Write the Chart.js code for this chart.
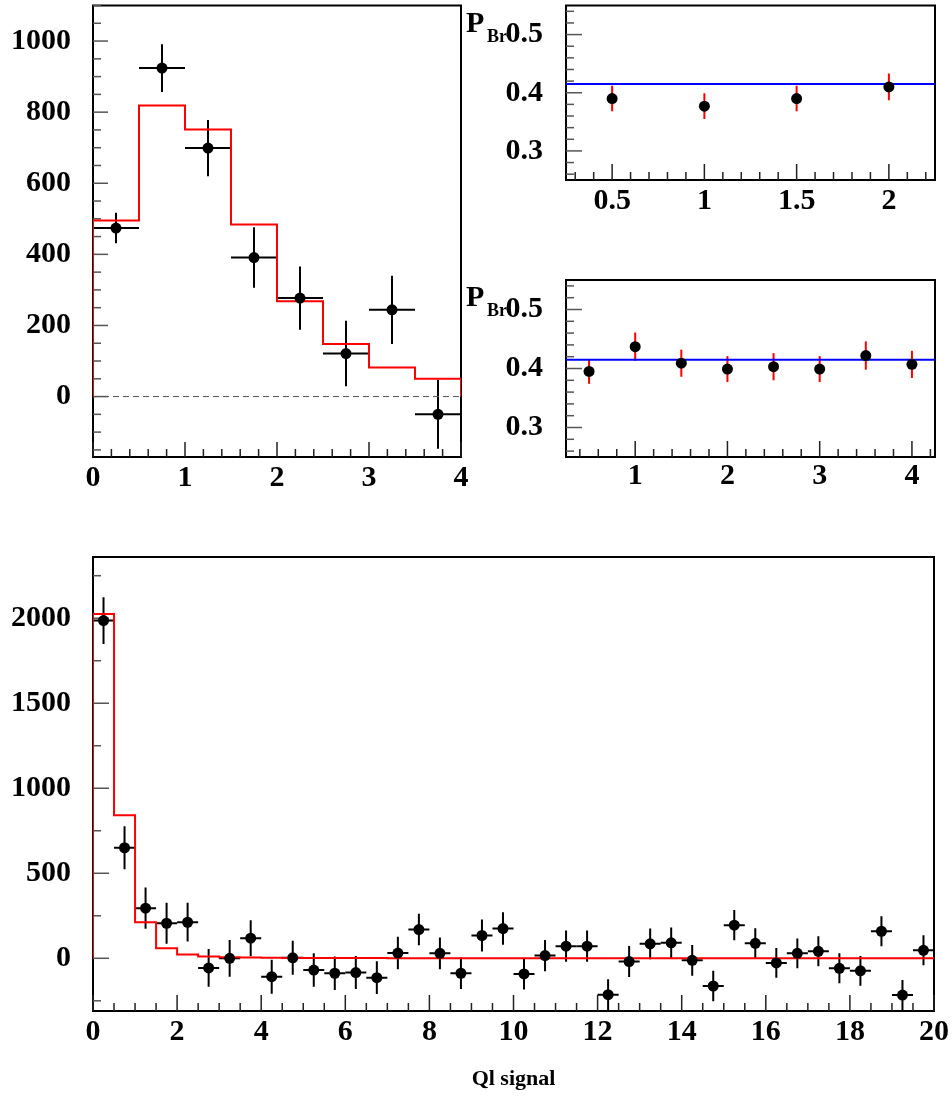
<!DOCTYPE html>
<html>
<head>
<meta charset="utf-8">
<script src="https://cdn.jsdelivr.net/npm/chart.js@4.4.0/dist/chart.umd.min.js"></script>
<style>
  body { margin: 0; background: #fff; width: 952px; height: 1097px; position: relative; overflow: hidden; }
  canvas { position: absolute; }
</style>
</head>
<body>
<canvas id="topHist" width="470" height="500" style="left:0;top:0"></canvas>
<canvas id="pbFirst" width="492" height="230" style="left:460px;top:0"></canvas>
<canvas id="pbSecond" width="492" height="230" style="left:460px;top:270px"></canvas>
<canvas id="fullHist" width="952" height="557" style="left:0;top:540px"></canvas>
<script>
// top-left: counts per 0.5 bin with fit histogram
const topBinEdges = [0, 0.5, 1, 1.5, 2, 2.5, 3, 3.5, 4];
const topCounts = [474, 924, 699, 391, 277, 121, 244, -50];
const topErrors = [43, 67, 79, 85, 89, 92, 96, 97];
const topFit = [495, 819, 751, 484, 268, 148, 82, 50];
const topXTicks = [0, 1, 2, 3, 4];
const topYTicks = [0, 200, 400, 600, 800, 1000];

// top-right: P_Br per point, two binnings
const pb1X = [0.5, 1, 1.5, 2];
const pb1Y = [0.390, 0.377, 0.390, 0.410];
const pb1Err = [0.022, 0.022, 0.022, 0.023];
const pb1XTicks = [0.5, 1, 1.5, 2];

const pb2X = [0.5, 1, 1.5, 2, 2.5, 3, 3.5, 4];
const pb2Y = [0.395, 0.437, 0.409, 0.399, 0.403, 0.399, 0.422, 0.407];
const pb2Err = [0.021, 0.024, 0.023, 0.022, 0.023, 0.022, 0.024, 0.023];
const pb2XTicks = [1, 2, 3, 4];

const pbFit = 0.415;
const pbYTicks = [0.3, 0.4, 0.5];

// bottom: full Ql signal range
const allBinEdges = [0, 0.5, 1, 1.5, 2, 2.5, 3, 3.5, 4, 4.5, 5, 5.5, 6, 6.5, 7, 7.5, 8, 8.5, 9, 9.5,
  10, 10.5, 11, 11.5, 12, 12.5, 13, 13.5, 14, 14.5, 15, 15.5, 16, 16.5, 17, 17.5, 18, 18.5, 19, 19.5, 20];
const allCounts = [1986, 650, 295, 206, 212, -57, 0, 118, -108, 3, -69, -88, -84, -114, 31, 169, 29, -88, 134, 175,
  -92, 16, 71, 71, -214, -19, 85, 91, -12, -163, 195, 88, -27, 29, 41, -59, -74, 159, -216, 47];
const allErrors = [137, 127, 121, 120, 114, 111, 108, 106, 100, 100, 98, 98, 97, 96, 95, 93, 93, 92, 94, 96,
  92, 92, 92, 92, 91, 91, 90, 90, 90, 90, 89, 88, 88, 88, 88, 88, 88, 88, 88, 88];
const allFit = [2025, 841, 212, 59, 22, 10, 6, 4, 3, 2, 2, 1, 1, 1, 0, 0, 0, 0, 0, 0,
  0, 0, 0, 0, 0, 0, 0, 0, 0, 0, 0, 0, 0, 0, 0, 0, 0, 0, 0, 0];
const allXTicks = [0, 2, 4, 6, 8, 10, 12, 14, 16, 18, 20];
const allYTicks = [0, 500, 1000, 1500, 2000];

const serif = "'Liberation Serif', 'Times New Roman', serif";

function centers(edges) {
  return edges.slice(1).map((e, i) => (edges[i] + e) / 2);
}

function points(xs, ys) {
  return xs.map((x, i) => ({ x: x, y: ys[i] }));
}

// outline of a histogram, closed down to zero at both ends
function stepPoints(edges, values) {
  const last = edges[edges.length - 1];
  const pts = [{ x: edges[0], y: 0 }];
  values.forEach((v, i) => pts.push({ x: edges[i], y: v }));
  pts.push({ x: last, y: values[values.length - 1] });
  pts.push({ x: last, y: 0 });
  return pts;
}

function minorValues(min, max, step) {
  const out = [];
  for (let v = Math.ceil(min / step - 1e-9) * step; v <= max + 1e-9; v += step) {
    out.push(+v.toFixed(6));
  }
  return out;
}

// frame plus inward ticks on the left and bottom axes
const frameTicks = {
  id: 'frameTicks',
  beforeDatasetsDraw(chart, args, opts) {
    const { ctx, chartArea: a, scales } = chart;
    const x = scales.x, y = scales.y;
    ctx.save();
    ctx.strokeStyle = '#000';
    ctx.lineWidth = 2;
    ctx.strokeRect(a.left, a.top, a.right - a.left, a.bottom - a.top);

    ctx.lineWidth = 1.5;
    ctx.strokeStyle = '#222';
    const xMajor = opts.xMajor;
    minorValues(x.min, x.max, opts.xMinor).forEach(v => {
      const big = xMajor.some(m => Math.abs(m - v) < opts.xMinor / 10);
      const px = x.getPixelForValue(v);
      ctx.beginPath();
      ctx.moveTo(px, a.bottom);
      ctx.lineTo(px, a.bottom - (big ? opts.majorLen : opts.minorLen));
      ctx.stroke();
    });
    ctx.strokeStyle = '#555';
    const yMajor = opts.yMajor;
    minorValues(y.min, y.max, opts.yMinor).forEach(v => {
      const big = yMajor.some(m => Math.abs(m - v) < opts.yMinor / 10);
      const py = y.getPixelForValue(v);
      ctx.beginPath();
      ctx.moveTo(a.left, py);
      ctx.lineTo(a.left + (big ? opts.majorLen : opts.minorLen), py);
      ctx.stroke();
    });
    ctx.restore();
  }
};

const errorBars = {
  id: 'errorBars',
  beforeDatasetsDraw(chart) {
    const { ctx, chartArea: a, scales } = chart;
    const x = scales.x, y = scales.y;
    ctx.save();
    ctx.beginPath();
    ctx.rect(a.left, a.top, a.right - a.left, a.bottom - a.top);
    ctx.clip();
    chart.data.datasets.forEach(ds => {
      if (!ds.errY) return;
      ctx.strokeStyle = ds.errColor;
      ctx.lineWidth = 2;
      ds.data.forEach((p, i) => {
        const px = x.getPixelForValue(p.x);
        const py = y.getPixelForValue(p.y);
        ctx.beginPath();
        ctx.moveTo(px, y.getPixelForValue(p.y - ds.errY[i]));
        ctx.lineTo(px, y.getPixelForValue(p.y + ds.errY[i]));
        if (ds.errX) {
          ctx.moveTo(x.getPixelForValue(p.x - ds.errX), py);
          ctx.lineTo(x.getPixelForValue(p.x + ds.errX), py);
        }
        ctx.stroke();
      });
    });
    ctx.restore();
  }
};

// "P" with subscript "Br" in the top-left corner of the small panels
const pbLabel = {
  id: 'pbLabel',
  afterDraw(chart, args, opts) {
    if (!opts.show) return;
    const { ctx, chartArea: a } = chart;
    ctx.save();
    ctx.fillStyle = '#000';
    ctx.textBaseline = 'alphabetic';
    ctx.textAlign = 'left';
    ctx.font = 'bold 30px ' + serif;
    ctx.fillText('P', 6, a.top + 26);
    ctx.font = 'bold 18px ' + serif;
    ctx.fillText('Br', 27, a.top + 36);
    ctx.restore();
  }
};

function axis(min, max, tickList, size, pad, position, extra) {
  return Object.assign({
    type: 'linear',
    position: position,
    min: min,
    max: max,
    grid: { display: false, drawTicks: false },
    border: { display: false },
    afterBuildTicks: (scale) => { scale.ticks = tickList.map(v => ({ value: v })); },
    afterFit: (scale) => {
      if (position === 'left') scale.width = size; else scale.height = size;
      // labels may overhang the plot edges, keep the area fixed
      scale.paddingTop = 0;
      scale.paddingBottom = 0;
      scale.paddingLeft = 0;
      scale.paddingRight = 0;
    },
    ticks: {
      autoSkip: false,
      maxRotation: 0,
      padding: pad,
      color: '#000',
      font: { family: serif, size: 30, weight: 'bold' },
      callback: (v) => String(v)
    }
  }, extra || {});
}

function makePanel(id, datasets, scales, padding, ticks, showPb) {
  return new Chart(document.getElementById(id), {
    type: 'scatter',
    data: { datasets: datasets },
    options: {
      responsive: false,
      animation: false,
      events: [],
      layout: { padding: padding },
      plugins: {
        legend: { display: false },
        tooltip: { enabled: false },
        frameTicks: ticks,
        pbLabel: { show: showPb }
      },
      scales: scales
    },
    plugins: [frameTicks, errorBars, pbLabel]
  });
}

function dataPoints(xs, ys, errs, halfWidth, errColor, radius) {
  return {
    data: points(xs, ys),
    errY: errs,
    errX: halfWidth,
    errColor: errColor,
    pointRadius: radius,
    pointBackgroundColor: '#000',
    pointBorderWidth: 0,
    showLine: false
  };
}

function fitLine(pts, color, extra) {
  return Object.assign({
    data: pts,
    showLine: true,
    borderColor: color,
    borderWidth: 2,
    pointRadius: 0
  }, extra || {});
}

makePanel('topHist', [
  dataPoints(centers(topBinEdges), topCounts, topErrors, 0.25, '#000', 5.5),
  fitLine(stepPoints(topBinEdges, topFit), '#ff0000', { stepped: true }),
  fitLine([{ x: 0, y: 0 }, { x: 4, y: 0 }], '#555', { borderWidth: 1, borderDash: [6, 4] })
], {
  x: axis(0, 4, topXTicks, 43, 3, 'bottom'),
  y: axis(-170, 1100, topYTicks, 93, 22, 'left')
}, { top: 3, right: 9, left: 0, bottom: 0 },
{ xMinor: 0.2, xMajor: topXTicks, yMinor: 50, yMajor: topYTicks, majorLen: 15, minorLen: 8 }, false);

makePanel('pbFirst', [
  dataPoints(pb1X, pb1Y, pb1Err, 0, '#ff0000', 5.5),
  fitLine([{ x: 0.25, y: pbFit }, { x: 2.25, y: pbFit }], '#0000ff')
], {
  x: axis(0.25, 2.25, pb1XTicks, 50, 3.5, 'bottom'),
  y: axis(0.25, 0.55, pbYTicks, 106, 23, 'left')
}, { top: 4, right: 17, left: 0, bottom: 0 },
{ xMinor: 0.1, xMajor: pb1XTicks, yMinor: 0.02, yMajor: pbYTicks, majorLen: 16, minorLen: 8 }, true);

makePanel('pbSecond', [
  dataPoints(pb2X, pb2Y, pb2Err, 0, '#ff0000', 5.5),
  fitLine([{ x: 0.25, y: pbFit }, { x: 4.25, y: pbFit }], '#0000ff')
], {
  x: axis(0.25, 4.25, pb2XTicks, 43, 1, 'bottom'),
  y: axis(0.25, 0.55, pbYTicks, 106, 23, 'left')
}, { top: 10, right: 17, left: 0, bottom: 0 },
{ xMinor: 0.2, xMajor: pb2XTicks, yMinor: 0.02, yMajor: pbYTicks, majorLen: 16, minorLen: 8 }, true);

makePanel('fullHist', [
  dataPoints(centers(allBinEdges), allCounts, allErrors, 0.25, '#000', 5.5),
  fitLine(stepPoints(allBinEdges, allFit), '#ff0000', { stepped: true })
], {
  x: axis(0, 20, allXTicks, 86, 3.5, 'bottom', {
    title: {
      display: true,
      text: 'Ql signal',
      color: '#000',
      font: { family: serif, size: 22, weight: 'bold' },
      padding: { top: 0, bottom: 4 }
    }
  }),
  y: axis(-310, 2360, allYTicks, 93, 22, 'left')
}, { top: 17, right: 18, left: 0, bottom: 0 },
{ xMinor: 0.5, xMajor: allXTicks, yMinor: 250, yMajor: allYTicks, majorLen: 16, minorLen: 8 }, false);
</script>
</body>
</html>
